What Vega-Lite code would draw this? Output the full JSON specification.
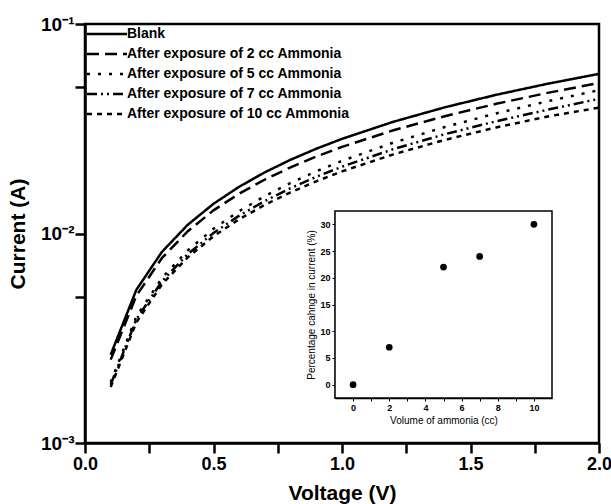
{
  "$schema": "https://vega.github.io/schema/vega-lite/v6.json",
  "width": 514,
  "height": 419,
  "autosize": {"type": "none"},
  "padding": {"left": 85, "top": 24, "right": 12, "bottom": 61},
  "background": "white",
  "config": {
    "view": {"stroke": "black", "strokeWidth": 2.5},
    "font": "Liberation Sans",
    "axis": {"grid": false, "labelFont": "Liberation Sans", "titleFont": "Liberation Sans", "labelColor": "black", "titleColor": "black", "domainColor": "black"}
  },
  "datasets": {
    "curves": [
      {"V": 0.1, "I": 0.00264, "s": "Blank"},
      {"V": 0.2, "I": 0.00539, "s": "Blank"},
      {"V": 0.3, "I": 0.00819, "s": "Blank"},
      {"V": 0.4, "I": 0.01101, "s": "Blank"},
      {"V": 0.5, "I": 0.01386, "s": "Blank"},
      {"V": 0.6, "I": 0.01672, "s": "Blank"},
      {"V": 0.7, "I": 0.0196, "s": "Blank"},
      {"V": 0.8, "I": 0.02249, "s": "Blank"},
      {"V": 0.9, "I": 0.02539, "s": "Blank"},
      {"V": 1.0, "I": 0.0283, "s": "Blank"},
      {"V": 1.2, "I": 0.03415, "s": "Blank"},
      {"V": 1.4, "I": 0.04002, "s": "Blank"},
      {"V": 1.6, "I": 0.04592, "s": "Blank"},
      {"V": 1.8, "I": 0.05185, "s": "Blank"},
      {"V": 2.0, "I": 0.05779, "s": "Blank"},
      {"V": 0.1, "I": 0.0025, "s": "After exposure of 2 cc Ammonia"},
      {"V": 0.2, "I": 0.00505, "s": "After exposure of 2 cc Ammonia"},
      {"V": 0.3, "I": 0.00765, "s": "After exposure of 2 cc Ammonia"},
      {"V": 0.4, "I": 0.01025, "s": "After exposure of 2 cc Ammonia"},
      {"V": 0.5, "I": 0.0129, "s": "After exposure of 2 cc Ammonia"},
      {"V": 0.6, "I": 0.0155, "s": "After exposure of 2 cc Ammonia"},
      {"V": 0.7, "I": 0.0181, "s": "After exposure of 2 cc Ammonia"},
      {"V": 0.8, "I": 0.0207, "s": "After exposure of 2 cc Ammonia"},
      {"V": 0.9, "I": 0.0233, "s": "After exposure of 2 cc Ammonia"},
      {"V": 1.0, "I": 0.0259, "s": "After exposure of 2 cc Ammonia"},
      {"V": 1.2, "I": 0.0311, "s": "After exposure of 2 cc Ammonia"},
      {"V": 1.4, "I": 0.0363, "s": "After exposure of 2 cc Ammonia"},
      {"V": 1.6, "I": 0.0416, "s": "After exposure of 2 cc Ammonia"},
      {"V": 1.8, "I": 0.0469, "s": "After exposure of 2 cc Ammonia"},
      {"V": 2.0, "I": 0.0523, "s": "After exposure of 2 cc Ammonia"},
      {"V": 0.1, "I": 0.00195, "s": "After exposure of 5 cc Ammonia"},
      {"V": 0.2, "I": 0.00402, "s": "After exposure of 5 cc Ammonia"},
      {"V": 0.3, "I": 0.00614, "s": "After exposure of 5 cc Ammonia"},
      {"V": 0.4, "I": 0.00831, "s": "After exposure of 5 cc Ammonia"},
      {"V": 0.5, "I": 0.01053, "s": "After exposure of 5 cc Ammonia"},
      {"V": 0.6, "I": 0.01279, "s": "After exposure of 5 cc Ammonia"},
      {"V": 0.7, "I": 0.01509, "s": "After exposure of 5 cc Ammonia"},
      {"V": 0.8, "I": 0.01743, "s": "After exposure of 5 cc Ammonia"},
      {"V": 0.9, "I": 0.01981, "s": "After exposure of 5 cc Ammonia"},
      {"V": 1.0, "I": 0.02222, "s": "After exposure of 5 cc Ammonia"},
      {"V": 1.2, "I": 0.02715, "s": "After exposure of 5 cc Ammonia"},
      {"V": 1.4, "I": 0.03222, "s": "After exposure of 5 cc Ammonia"},
      {"V": 1.6, "I": 0.03743, "s": "After exposure of 5 cc Ammonia"},
      {"V": 1.8, "I": 0.04278, "s": "After exposure of 5 cc Ammonia"},
      {"V": 2.0, "I": 0.0483, "s": "After exposure of 5 cc Ammonia"},
      {"V": 0.1, "I": 0.0019, "s": "After exposure of 7 cc Ammonia"},
      {"V": 0.2, "I": 0.0039, "s": "After exposure of 7 cc Ammonia"},
      {"V": 0.3, "I": 0.00592, "s": "After exposure of 7 cc Ammonia"},
      {"V": 0.4, "I": 0.00797, "s": "After exposure of 7 cc Ammonia"},
      {"V": 0.5, "I": 0.01006, "s": "After exposure of 7 cc Ammonia"},
      {"V": 0.6, "I": 0.01217, "s": "After exposure of 7 cc Ammonia"},
      {"V": 0.7, "I": 0.0143, "s": "After exposure of 7 cc Ammonia"},
      {"V": 0.8, "I": 0.01646, "s": "After exposure of 7 cc Ammonia"},
      {"V": 0.9, "I": 0.01864, "s": "After exposure of 7 cc Ammonia"},
      {"V": 1.0, "I": 0.02084, "s": "After exposure of 7 cc Ammonia"},
      {"V": 1.2, "I": 0.02529, "s": "After exposure of 7 cc Ammonia"},
      {"V": 1.4, "I": 0.02978, "s": "After exposure of 7 cc Ammonia"},
      {"V": 1.6, "I": 0.03434, "s": "After exposure of 7 cc Ammonia"},
      {"V": 1.8, "I": 0.03899, "s": "After exposure of 7 cc Ammonia"},
      {"V": 2.0, "I": 0.04392, "s": "After exposure of 7 cc Ammonia"},
      {"V": 0.1, "I": 0.00185, "s": "After exposure of 10 cc Ammonia"},
      {"V": 0.2, "I": 0.00377, "s": "After exposure of 10 cc Ammonia"},
      {"V": 0.3, "I": 0.00573, "s": "After exposure of 10 cc Ammonia"},
      {"V": 0.4, "I": 0.0077, "s": "After exposure of 10 cc Ammonia"},
      {"V": 0.5, "I": 0.0097, "s": "After exposure of 10 cc Ammonia"},
      {"V": 0.6, "I": 0.0117, "s": "After exposure of 10 cc Ammonia"},
      {"V": 0.7, "I": 0.01371, "s": "After exposure of 10 cc Ammonia"},
      {"V": 0.8, "I": 0.01573, "s": "After exposure of 10 cc Ammonia"},
      {"V": 0.9, "I": 0.01775, "s": "After exposure of 10 cc Ammonia"},
      {"V": 1.0, "I": 0.01979, "s": "After exposure of 10 cc Ammonia"},
      {"V": 1.2, "I": 0.02387, "s": "After exposure of 10 cc Ammonia"},
      {"V": 1.4, "I": 0.02797, "s": "After exposure of 10 cc Ammonia"},
      {"V": 1.6, "I": 0.03208, "s": "After exposure of 10 cc Ammonia"},
      {"V": 1.8, "I": 0.03618, "s": "After exposure of 10 cc Ammonia"},
      {"V": 2.0, "I": 0.03988, "s": "After exposure of 10 cc Ammonia"}
    ],
    "inset": [
      {"vol": 0, "pct": 0},
      {"vol": 2, "pct": 7},
      {"vol": 5, "pct": 22},
      {"vol": 7, "pct": 24},
      {"vol": 10, "pct": 30}
    ]
  },
  "layer": [
    {
      "data": {"name": "curves"},
      "mark": {"type": "line", "color": "black", "strokeWidth": 2.5},
      "encoding": {
        "x": {
          "field": "V", "type": "quantitative",
          "scale": {"domain": [0, 2], "nice": false, "zero": false},
          "axis": {
            "orient": "bottom", "title": "Voltage (V)",
            "values": [0, 0.25, 0.5, 0.75, 1, 1.25, 1.5, 1.75, 2],
            "labelExpr": "datum.value % 0.5 == 0 ? format(datum.value, '.1f') : ''",
            "ticks": true, "tickSize": 10, "tickWidth": 2.5, "tickColor": "black", "domainWidth": 2.5,
            "labelFontSize": 18, "labelFontWeight": "bold", "labelPadding": 2,
            "titleFontSize": 21, "titleFontWeight": "bold", "titlePadding": 9,
            "labelOverlap": false, "labelFlush": false
          }
        },
        "y": {
          "field": "I", "type": "quantitative",
          "scale": {"type": "log", "domain": [0.001, 0.1], "nice": false},
          "axis": {
            "orient": "left", "title": "Current (A)",
            "values": [0.001, 0.005, 0.01, 0.05, 0.1],
            "labelExpr": "datum.value == 0.001 ? '10⁻³' : datum.value == 0.01 ? '10⁻²' : datum.value == 0.1 ? '10⁻¹' : ''",
            "ticks": true, "tickSize": 10, "tickWidth": 2.5, "tickColor": "black", "domainWidth": 2.5,
            "labelFontSize": 19, "labelFontWeight": "bold", "labelPadding": 1,
            "titleFontSize": 21, "titleFontWeight": "bold", "titlePadding": 12,
            "labelOverlap": false, "labelFlush": false
          }
        },
        "strokeDash": {
          "field": "s", "type": "nominal",
          "scale": {
            "domain": ["Blank", "After exposure of 2 cc Ammonia", "After exposure of 5 cc Ammonia", "After exposure of 7 cc Ammonia", "After exposure of 10 cc Ammonia"],
            "range": [[1, 0], [12, 6], [3, 8], [10, 4, 2, 4, 2, 4], [5, 5]]
          },
          "legend": {
            "orient": "none", "legendX": 15, "legendY": 3, "title": null,
            "symbolType": "M-4,0H4", "symbolSize": 100, "symbolStrokeWidth": 2.5,
            "symbolStrokeColor": "black", "symbolFillColor": "transparent",
            "labelFontSize": 14, "labelFontWeight": "bold",
            "labelFont": "Liberation Sans", "labelColor": "black", "labelOffset": 13,
            "rowPadding": 6, "padding": 0, "labelLimit": 400
          }
        }
      }
    },
    {
      "layer": [
        {
          "data": {"values": [{}]},
          "mark": {"type": "rect", "fill": "white", "stroke": "black", "strokeWidth": 1.5},
          "encoding": {
            "x": {"datum": -1, "type": "quantitative"},
            "x2": {"datum": 11},
            "y": {"datum": -2.5, "type": "quantitative"},
            "y2": {"datum": 32.5}
          }
        },
        {
          "data": {"name": "inset"},
          "mark": {"type": "circle", "color": "black", "opacity": 1, "size": 45},
          "encoding": {
            "x": {
              "field": "vol", "type": "quantitative",
              "scale": {"domain": [-1, 11], "range": [250, 467], "nice": false, "zero": false},
              "axis": {
                "orient": "bottom", "offset": -45, "title": "Volume of ammonia (cc)",
                "values": [0, 1, 2, 3, 4, 5, 6, 7, 8, 9, 10],
                "labelExpr": "datum.value % 2 == 0 ? format(datum.value, 'd') : ''",
                "ticks": true, "tickSize": 3, "tickWidth": 1, "tickColor": "black", "domainWidth": 1.5,
                "labelFontSize": 9, "labelFontWeight": "bold", "labelPadding": 2,
                "titleFontSize": 10, "titleFontWeight": "normal", "titlePadding": 3,
                "labelOverlap": false, "labelFlush": false
              }
            },
            "y": {
              "field": "pct", "type": "quantitative",
              "scale": {"domain": [-2.5, 32.5], "range": [374, 187], "nice": false, "zero": false},
              "axis": {
                "orient": "left", "offset": -250, "title": "Percentage cahnge in current (%)",
                "values": [0, 5, 10, 15, 20, 25, 30],
                "ticks": true, "tickSize": 3, "tickWidth": 1, "tickColor": "black", "domainWidth": 1.5,
                "labelFontSize": 9, "labelFontWeight": "bold", "labelPadding": 2,
                "titleFontSize": 10, "titleFontWeight": "normal", "titlePadding": 3,
                "labelOverlap": false, "labelFlush": false
              }
            }
          }
        }
      ]
    }
  ],
  "resolve": {"scale": {"x": "independent", "y": "independent", "strokeDash": "independent"}}
}
